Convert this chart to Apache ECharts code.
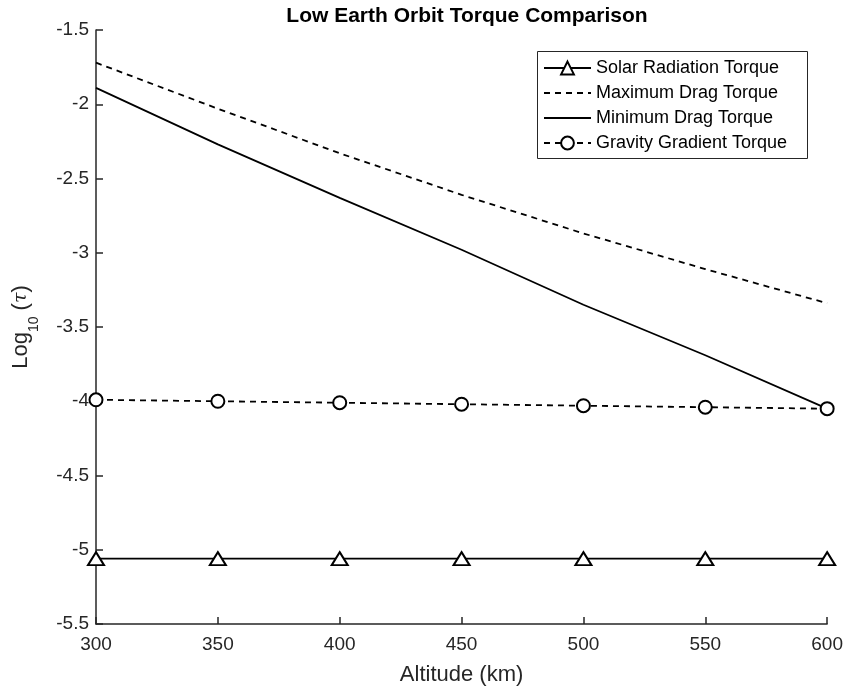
<!DOCTYPE html>
<html>
<head>
<meta charset="utf-8">
<script src="https://cdn.jsdelivr.net/npm/echarts@6/dist/echarts.min.js"></script>
<style>
  html, body { margin: 0; padding: 0; background: #fff; }
  #chart { width: 846px; height: 693px; }
</style>
</head>
<body>
<div id="chart"></div>
<script>
// Altitude (km) and log10 of each torque
const altitudes = [300, 350, 400, 450, 500, 550, 600];
const solarRadiation = [-5.06, -5.06, -5.06, -5.06, -5.06, -5.06, -5.06];
const maxDrag = [-1.72, -2.03, -2.33, -2.61, -2.87, -3.11, -3.34];
const minDrag = [-1.89, -2.27, -2.63, -2.98, -3.35, -3.69, -4.05];
const gravityGradient = [-3.99, -4.00, -4.01, -4.02, -4.03, -4.04, -4.05];
const seriesNames = ['Solar Radiation Torque', 'Maximum Drag Torque', 'Minimum Drag Torque', 'Gravity Gradient Torque'];
const titleText = 'Low Earth Orbit Torque Comparison';
const xName = 'Altitude (km)';

const pairs = vals => altitudes.map((a, i) => [a, vals[i]]);
const ink = '#262626';
const font = 'Liberation Sans, Arial, sans-serif';

// Series drawn without markers keep a plain line as their legend icon
const legendItems = [
  { name: seriesNames[0] },
  { name: seriesNames[1], itemStyle: { opacity: 0 } },
  { name: seriesNames[2], itemStyle: { opacity: 0 } },
  { name: seriesNames[3] }
];

const chart = echarts.init(document.getElementById('chart'), null, { renderer: 'canvas' });
chart.setOption({
  animation: false,
  backgroundColor: '#fff',
  title: {
    text: titleText,
    left: 462, top: 1, textAlign: 'center',
    textStyle: { fontFamily: font, fontSize: 21, fontWeight: 'bold', color: '#000' }
  },
  grid: { left: 96, right: 18, top: 30, bottom: 69 },
  graphic: [{
    type: 'rect', left: 537, top: 51, z: 90,
    shape: { width: 270, height: 107 },
    style: { fill: '#fff', stroke: ink, lineWidth: 1 }
  }],
  legend: {
    orient: 'vertical',
    left: 537, top: 51,
    padding: [8, 6, 7, 6],
    itemGap: 7,
    itemWidth: 47, itemHeight: 16,
    z: 100,
    textStyle: { fontFamily: font, fontSize: 18, lineHeight: 18, color: '#000' },
    data: legendItems
  },
  xAxis: {
    type: 'value', min: 300, max: 600, interval: 50,
    name: xName, nameLocation: 'middle', nameGap: 40,
    nameTextStyle: { fontFamily: font, fontSize: 22, color: ink },
    axisLine: { lineStyle: { color: ink, width: 1.5 } },
    axisTick: { inside: true, length: 7, lineStyle: { color: ink, width: 1.5 } },
    axisLabel: { fontFamily: font, fontSize: 19, color: ink, margin: 11 },
    splitLine: { show: false }
  },
  yAxis: {
    type: 'value', min: -5.5, max: -1.5, interval: 0.5,
    name: '{b|Log}{sub|10}{b| (}{tau|τ}{b|)}', nameLocation: 'middle', nameGap: 55, nameRotate: 90,
    nameTextStyle: {
      fontFamily: font, fontSize: 22, color: ink,
      rich: {
        b: { fontFamily: font, fontSize: 22, color: ink, verticalAlign: 'top' },
        sub: { fontFamily: font, fontSize: 14, color: ink, verticalAlign: 'bottom', padding: [17, 0, 0, 0] },
        tau: { fontFamily: 'DejaVu Serif, serif', fontStyle: 'italic', fontSize: 19, color: ink, verticalAlign: 'top', padding: [2, 0, 0, 0] }
      }
    },
    axisLine: { lineStyle: { color: ink, width: 1.5 } },
    axisTick: { inside: true, length: 7, lineStyle: { color: ink, width: 1.5 } },
    axisLabel: { fontFamily: font, fontSize: 19, color: ink, margin: 7 },
    splitLine: { show: false }
  },
  series: [
    {
      name: seriesNames[0], type: 'line', data: pairs(solarRadiation),
      symbol: 'emptyTriangle', symbolSize: [16, 13],
      lineStyle: { color: '#000', width: 1.8 },
      itemStyle: { color: '#000', borderColor: '#000', borderWidth: 1.8 }
    },
    {
      name: seriesNames[1], type: 'line', data: pairs(maxDrag),
      symbol: 'none',
      lineStyle: { color: '#000', width: 1.8, type: [6, 5] },
      itemStyle: { color: '#000' }
    },
    {
      name: seriesNames[2], type: 'line', data: pairs(minDrag),
      symbol: 'none',
      lineStyle: { color: '#000', width: 1.8 },
      itemStyle: { color: '#000' }
    },
    {
      name: seriesNames[3], type: 'line', data: pairs(gravityGradient),
      symbol: 'emptyCircle', symbolSize: 13,
      lineStyle: { color: '#000', width: 1.8, type: [6, 5] },
      itemStyle: { color: '#000', borderColor: '#000', borderWidth: 1.8 }
    }
  ]
});
</script>
</body>
</html>
